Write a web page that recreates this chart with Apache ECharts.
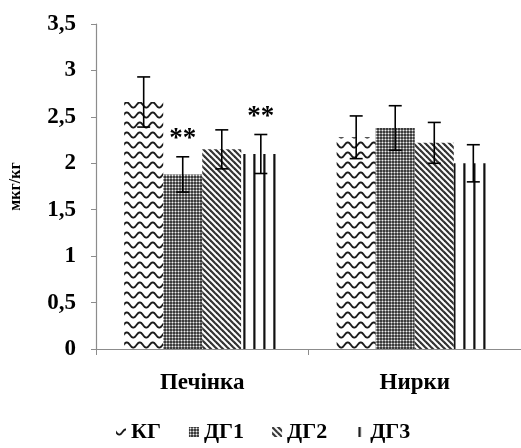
<!DOCTYPE html>
<html>
<head>
<meta charset="utf-8">
<script src="https://cdn.jsdelivr.net/npm/echarts@6/dist/echarts.min.js"></script>
<style>
  html, body { margin: 0; padding: 0; background: #fff; }
  #chart { width: 521px; height: 448px; }
</style>
</head>
<body>
<div id="chart"></div>
<script>
// Organs on the x axis
var categories = ['Печінка', 'Нирки'];
// Group names
var groups = ['КГ', 'ДГ1', 'ДГ2', 'ДГ3'];
// Mean values per group (µg/kg), one entry per organ
var valuesKG  = [2.66, 2.28];
var valuesDG1 = [1.88, 2.38];
var valuesDG2 = [2.15, 2.22];
var valuesDG3 = [2.10, 2.00];
// Error (± deviation) per group
var errKG  = [0.27, 0.23];
var errDG1 = [0.19, 0.24];
var errDG2 = [0.21, 0.22];
var errDG3 = [0.21, 0.20];
// Significance marks above the error bars
var sigKG  = ['', ''];
var sigDG1 = ['**', ''];
var sigDG2 = ['', ''];
var sigDG3 = ['**', ''];
// Y axis ticks
var yTicks = [0, 0.5, 1, 1.5, 2, 2.5, 3, 3.5];

var allValues = [valuesKG, valuesDG1, valuesDG2, valuesDG3];
var allErr = [errKG, errDG1, errDG2, errDG3];
var allSig = [sigKG, sigDG1, sigDG2, sigDG3];

// ---- fill patterns drawn on small canvases ----
function tile(w, h, draw) {
  var c = document.createElement('canvas');
  c.width = w; c.height = h;
  var ctx = c.getContext('2d');
  ctx.fillStyle = '#fff';
  ctx.fillRect(0, 0, w, h);
  draw(ctx, w, h);
  return { image: c, repeat: 'repeat' };
}

var wavePattern = tile(13, 10, function (ctx, w, h) {
  ctx.strokeStyle = '#1a1a1a';
  ctx.lineWidth = 1.9;
  ctx.beginPath();
  for (var x = -1; x <= w + 1; x += 0.5) {
    var y = 5 + 2.6 * Math.sin((x / w) * Math.PI * 2);
    if (x === -1) ctx.moveTo(x, y); else ctx.lineTo(x, y);
  }
  ctx.stroke();
});

var checkPattern = tile(3, 3, function (ctx) {
  ctx.fillStyle = '#3c3c3c';
  ctx.fillRect(0, 0, 3, 3);
  ctx.fillStyle = '#8a8a8a';
  ctx.fillRect(0, 1, 3, 1);
  ctx.fillRect(1, 0, 1, 3);
  ctx.fillStyle = '#f0f0f0';
  ctx.fillRect(1, 1, 1, 1);
});

var diagPattern = tile(6, 6, function (ctx, w, h) {
  ctx.strokeStyle = '#333';
  ctx.lineWidth = 2.2;
  for (var k = -1; k <= 1; k++) {
    ctx.beginPath();
    ctx.moveTo(k * w - 1, -1);
    ctx.lineTo(k * w + w + 1, h + 1);
    ctx.stroke();
  }
});

var vertPattern = tile(10, 1, function (ctx) {
  ctx.fillStyle = '#555';
  ctx.fillRect(3, 0, 1, 1);
  ctx.fillStyle = '#111';
  ctx.fillRect(4, 0, 1, 1);
  ctx.fillStyle = '#888';
  ctx.fillRect(5, 0, 1, 1);
});

var patterns = [wavePattern, checkPattern, diagPattern, vertPattern];

var serif = '"Liberation Serif", "Times New Roman", serif';
var gapRatio = 0.265;

var barSeries = groups.map(function (g, i) {
  return {
    name: g,
    type: 'bar',
    barGap: '0%',
    barCategoryGap: (gapRatio * 100) + '%',
    itemStyle: { color: patterns[i] },
    data: allValues[i]
  };
});

// error bars and significance marks: [categoryIndex, value, error, groupIndex, mark]
var errData = [];
for (var gi = 0; gi < groups.length; gi++) {
  for (var ci = 0; ci < categories.length; ci++) {
    errData.push([ci, allValues[gi][ci], allErr[gi][ci], gi, allSig[gi][ci]]);
  }
}

var errSeries = {
  type: 'custom',
  silent: true,
  z: 5,
  data: errData,
  encode: { x: 0, y: 1 },
  renderItem: function (params, api) {
    var ci = api.value(0), v = api.value(1), e = api.value(2), gi = api.value(3);
    var band = api.size([1, 0])[0];
    var bw = band * (1 - gapRatio) / groups.length;
    var center = api.coord([ci, v])[0];
    var x = center - bw * groups.length / 2 + bw * gi + bw / 2;
    var yTop = api.coord([ci, v + e])[1];
    var yBot = api.coord([ci, v - e])[1];
    var cap = 6.5;
    var style = { stroke: '#000', lineWidth: 1.6 };
    var children = [
      { type: 'line', shape: { x1: x, y1: yTop, x2: x, y2: yBot }, style: style },
      { type: 'line', shape: { x1: x - cap, y1: yTop, x2: x + cap, y2: yTop }, style: style },
      { type: 'line', shape: { x1: x - cap, y1: yBot, x2: x + cap, y2: yBot }, style: style }
    ];
    var mark = errData[params.dataIndex][4];
    if (mark) {
      children.push({
        type: 'text',
        style: {
          x: x, y: yTop - 4, text: mark,
          textAlign: 'center', textVerticalAlign: 'bottom',
          font: 'bold 27px ' + serif, fill: '#000'
        }
      });
    }
    return { type: 'group', children: children };
  }
};

var chart = echarts.init(document.getElementById('chart'), null, { renderer: 'canvas' });
chart.setOption({
  animation: false,
  backgroundColor: '#fff',
  grid: { left: 95, right: -4, top: 24, bottom: 99, containLabel: false },
  legend: {
    data: groups,
    bottom: 0,
    left: 111,
    icon: 'rect',
    itemWidth: 10,
    itemHeight: 10,
    itemGap: 28,
    textStyle: { fontFamily: serif, fontWeight: 'bold', fontSize: 22, color: '#000' }
  },
  xAxis: {
    type: 'category',
    data: categories,
    axisLine: { lineStyle: { color: '#8c8c8c', width: 1.2 } },
    axisTick: { show: true, length: 6, lineStyle: { color: '#8c8c8c' } },
    axisLabel: { margin: 23, fontFamily: serif, fontWeight: 'bold', fontSize: 23, color: '#000' }
  },
  yAxis: {
    type: 'value',
    min: yTicks[0],
    max: yTicks[yTicks.length - 1],
    interval: 0.5,
    name: 'мкг/кг',
    nameLocation: 'middle',
    nameGap: 72,
    nameTextStyle: { fontFamily: serif, fontWeight: 'bold', fontSize: 16, color: '#000' },
    axisLine: { show: true, lineStyle: { color: '#8c8c8c', width: 1.2 } },
    axisTick: { show: true, length: 5, lineStyle: { color: '#8c8c8c' } },
    splitLine: { show: false },
    axisLabel: {
      margin: 20,
      fontFamily: serif, fontWeight: 'bold', fontSize: 23, color: '#000',
      formatter: function (v) { return String(v).replace('.', ','); }
    }
  },
  series: barSeries.concat([errSeries])
});
</script>
</body>
</html>
